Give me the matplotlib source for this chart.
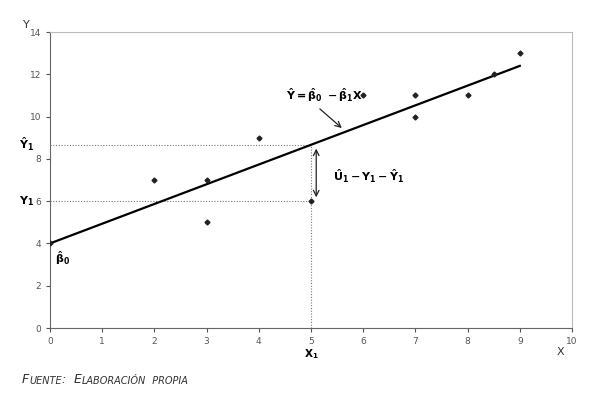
import numpy as np
import matplotlib.pyplot as plt

# observed points
x_obs = [0, 2, 3, 3, 4, 5, 6, 7, 7, 8, 8.5, 9]
y_obs = [4, 7, 7, 5, 9, 6, 11, 11, 10, 11, 12, 13]

# fitted line
b0 = 4.0
b1 = 0.933
x_line = [0, 9]
x_i = 5
y_i = 6

x_ticks = list(range(0, 11))
y_ticks = list(range(0, 15, 2))

fig = plt.figure(figsize=(5.99, 4.05), dpi=100)
ax = fig.add_axes([50 / 599, (405 - 328) / 405, 522 / 599, 296 / 405])

yhat_i = b0 + b1 * x_i
ax.plot(x_line, [b0 + b1 * v for v in x_line], color='black', lw=1.6, zorder=3)
ax.plot(x_obs, y_obs, 'D', color='#222222', ms=2.5, zorder=4)

# dotted guide lines
guide = dict(color='#777777', lw=0.8, ls=(0, (1, 1.5)))
ax.plot([0, x_i], [yhat_i, yhat_i], **guide)
ax.plot([0, x_i], [y_i, y_i], **guide)
ax.plot([x_i, x_i], [0, yhat_i], **guide)

# residual arrow
ax.annotate('', xy=(x_i + 0.1, y_i + 0.05), xytext=(x_i + 0.1, yhat_i - 0.05),
            arrowprops=dict(arrowstyle='<->', color='#222222', lw=0.9))
ax.text(5.42, 7.15, r'$\mathbf{\hat{U}_1 - Y_1 - \hat{Y}_1}$', fontsize=8,
        va='center', ha='left')

# line label with arrow
ax.text(5.25, 11.0, r'$\mathbf{\hat{Y} = \hat{\beta}_0\ - \hat{\beta}_1 X}$',
        ha='center', va='center', fontsize=8)
ax.annotate('', xy=(5.63, 9.37), xytext=(5.13, 10.45),
            arrowprops=dict(arrowstyle='->', color='#222222', lw=0.9))

ax.set_xlim(0, 10)
ax.set_ylim(0, 14)
ax.set_xticks(x_ticks)
ax.set_yticks(y_ticks)
ax.tick_params(labelsize=6.5, labelcolor='#555555', color='#555555',
               length=3, width=0.8)
for side in ['left', 'bottom']:
    ax.spines[side].set_color('#666666')
for side in ['top', 'right']:
    ax.spines[side].set_color('#bbbbbb')

# axis and point labels
ax.text(-0.45, 14.2, 'Y', fontsize=8, color='#333333', ha='center')
ax.text(9.77, -1.13, 'X', fontsize=8, color='#333333', ha='center', va='center')
ax.text(-0.45, yhat_i, r'$\mathbf{\hat{Y}_1}$', fontsize=8, ha='center', va='center')
ax.text(-0.45, y_i, r'$\mathbf{Y_1}$', fontsize=8, ha='center', va='center')
ax.text(0.1, 3.3, r'$\mathbf{\hat{\beta}_0}$', fontsize=8, ha='left', va='center')
ax.text(x_i, -1.25, r'$\mathbf{X_1}$', fontsize=7.5, ha='center', va='center')

# footer in small caps style
pieces = [('F', 9), ('UENTE', 7), (':  ', 9), ('E', 9), ('LABORACIÓN', 7), ('  PROPIA', 7)]
prev = fig.text(22 / 599, 1 - 383 / 405, pieces[0][0], fontsize=pieces[0][1],
                style='italic', color='#333333', va='baseline')
for txt, fs in pieces[1:]:
    prev = ax.annotate(txt, xy=(1, 0), xycoords=prev, fontsize=fs, style='italic',
                       color='#333333', va='bottom', ha='left',
                       annotation_clip=False)

fig.savefig('out.png', dpi=100)
